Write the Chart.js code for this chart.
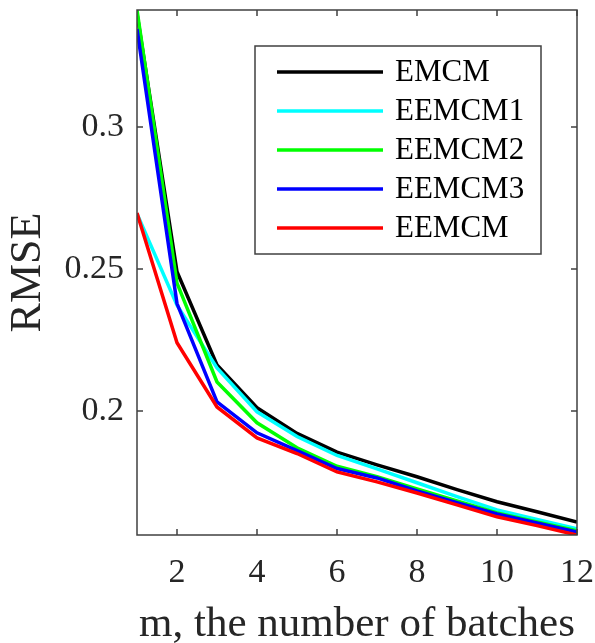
<!DOCTYPE html>
<html>
<head>
<meta charset="utf-8">
<script src="https://cdn.jsdelivr.net/npm/chart.js@4/dist/chart.umd.min.js"></script>
<style>
  html, body { margin: 0; padding: 0; background: #fff; }
  #wrap { width: 595px; height: 643px; }
</style>
</head>
<body>
<div id="wrap"><canvas id="rmse-chart" width="595" height="643"></canvas></div>
<script>
const M_VALUES = [1, 2, 3, 4, 5, 6, 7, 8, 9, 10, 11, 12];
const SERIES_NAMES = ['EMCM', 'EEMCM1', 'EEMCM2', 'EEMCM3', 'EEMCM'];
const EMCM    = [0.3400, 0.2490, 0.2162, 0.2011, 0.1921, 0.1855, 0.1810, 0.1768, 0.1723, 0.1680, 0.1645, 0.1609];
const EEMCM1  = [0.2695, 0.2372, 0.2151, 0.1997, 0.1910, 0.1843, 0.1796, 0.1747, 0.1698, 0.1651, 0.1618, 0.1585];
const EEMCM2  = [0.3412, 0.2450, 0.2102, 0.1958, 0.1870, 0.1805, 0.1768, 0.1725, 0.1683, 0.1641, 0.1609, 0.1578];
const EEMCM3  = [0.3345, 0.2378, 0.2032, 0.1923, 0.1860, 0.1797, 0.1764, 0.1718, 0.1677, 0.1637, 0.1605, 0.1573];
const EEMCM   = [0.2697, 0.2240, 0.2014, 0.1905, 0.1850, 0.1785, 0.1750, 0.1711, 0.1669, 0.1627, 0.1596, 0.1563];
const SERIES_COLORS = ['#000000', '#00ffff', '#00ff00', '#0000ff', '#ff0000'];
const X_TICKS = [2, 4, 6, 8, 10, 12];
const Y_TICKS = [0.2, 0.25, 0.3];

const FONT = '"Liberation Serif", "Times New Roman", serif';
const AXIS_COLOR = '#404040';
const TEXT_COLOR = '#262626';

const allSeries = [EMCM, EEMCM1, EEMCM2, EEMCM3, EEMCM];

// matlab style box with inward ticks on all four sides
const boxFrame = {
  id: 'boxFrame',
  afterDatasetsDraw(chart) {
    const { ctx, chartArea: a, scales } = chart;
    ctx.save();
    ctx.strokeStyle = AXIS_COLOR;
    ctx.lineWidth = 1.5;
    ctx.strokeRect(a.left, a.top, a.right - a.left, a.bottom - a.top);
    const len = 6;
    ctx.beginPath();
    X_TICKS.forEach(v => {
      const x = scales.x.getPixelForValue(v);
      ctx.moveTo(x, a.bottom); ctx.lineTo(x, a.bottom - len);
      ctx.moveTo(x, a.top); ctx.lineTo(x, a.top + len);
    });
    Y_TICKS.forEach(v => {
      const y = scales.y.getPixelForValue(v);
      ctx.moveTo(a.left, y); ctx.lineTo(a.left + len, y);
      ctx.moveTo(a.right, y); ctx.lineTo(a.right - len, y);
    });
    ctx.stroke();
    ctx.restore();
  }
};

// legend box inside the plot, top right
const boxLegend = {
  id: 'boxLegend',
  afterDraw(chart) {
    const ctx = chart.ctx;
    const left = 255, top = 46, right = 541, bottom = 254;
    ctx.save();
    ctx.fillStyle = '#fff';
    ctx.fillRect(left, top, right - left, bottom - top);
    ctx.strokeStyle = AXIS_COLOR;
    ctx.lineWidth = 1.5;
    ctx.strokeRect(left, top, right - left, bottom - top);
    ctx.font = '31px ' + FONT;
    ctx.textBaseline = 'middle';
    chart.data.datasets.forEach((ds, i) => {
      const y = 72 + i * 39;
      ctx.strokeStyle = ds.borderColor;
      ctx.lineWidth = 3.5;
      ctx.beginPath();
      ctx.moveTo(277, y);
      ctx.lineTo(383, y);
      ctx.stroke();
      ctx.fillStyle = '#000';
      ctx.fillText(ds.label, 395, y + 1);
    });
    ctx.restore();
  }
};

const datasets = SERIES_NAMES.map((name, i) => ({
  label: name,
  data: M_VALUES.map((m, j) => ({ x: m, y: allSeries[i][j] })),
  borderColor: SERIES_COLORS[i],
  backgroundColor: SERIES_COLORS[i],
  borderWidth: 3.5,
  pointRadius: 0,
  tension: 0,
  order: SERIES_NAMES.length - 1 - i
}));

new Chart(document.getElementById('rmse-chart'), {
  type: 'line',
  data: { datasets: datasets },
  options: {
    responsive: false,
    animation: false,
    layout: { padding: { top: 10, right: 18, left: 0, bottom: 0 } },
    plugins: {
      legend: { display: false },
      tooltip: { enabled: false }
    },
    scales: {
      x: {
        type: 'linear',
        min: 1,
        max: 12,
        afterBuildTicks: (scale) => { scale.ticks = X_TICKS.map(v => ({ value: v })); },
        afterFit: (scale) => {
          scale.height = 108;
          scale.paddingLeft = 0;
          scale.paddingRight = 0;
        },
        grid: { display: false },
        border: { display: false },
        ticks: {
          autoSkip: false,
          maxRotation: 0,
          padding: 10,
          color: TEXT_COLOR,
          font: { family: FONT, size: 34 }
        },
        title: {
          display: true,
          text: 'm, the number of batches',
          color: TEXT_COLOR,
          font: { family: FONT, size: 43 },
          padding: { top: 0, bottom: -8 }
        }
      },
      y: {
        min: 0.1563,
        max: 0.3412,
        afterBuildTicks: (scale) => { scale.ticks = Y_TICKS.map(v => ({ value: v })); },
        afterFit: (scale) => {
          scale.width = 137;
          scale.paddingTop = 0;
          scale.paddingBottom = 0;
        },
        grid: { display: false },
        border: { display: false },
        ticks: {
          padding: 5,
          color: TEXT_COLOR,
          font: { family: FONT, size: 34 },
          callback: (v) => String(v)
        },
        title: {
          display: true,
          text: 'RMSE',
          color: TEXT_COLOR,
          font: { family: FONT, size: 44 },
          padding: { top: 2, bottom: 0 }
        }
      }
    }
  },
  plugins: [boxFrame, boxLegend]
});
</script>
</body>
</html>
